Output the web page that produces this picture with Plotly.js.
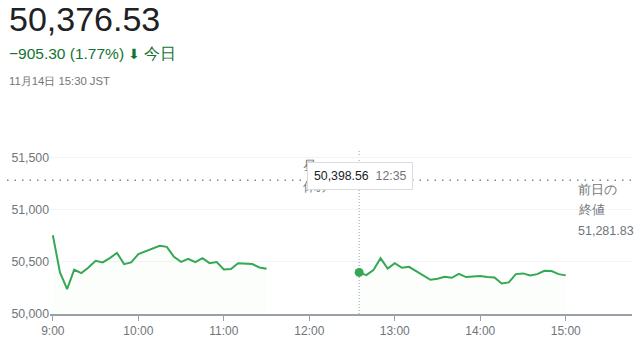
<!DOCTYPE html>
<html>
<head>
<meta charset="utf-8">
<script src="https://cdn.plot.ly/plotly-3.0.1.min.js"></script>
<style>
html,body{margin:0;padding:0;background:#fff;}
#chart{width:640px;height:338px;}
</style>
</head>
<body>
<div id="chart"></div>
<script>
// ---- data ----
var tradeDate = '2025-11-14';
var morningStart = '09:00';
var morningValues = [50755, 50398, 50239, 50424, 50392, 50446, 50510, 50494, 50535, 50586,
  50478, 50494, 50573, 50599, 50624, 50653, 50643, 50548, 50500, 50529,
  50497, 50535, 50487, 50497, 50427, 50430, 50487, 50484, 50478, 50446, 50433];
var afternoonStart = '12:35';
var afternoonValues = [50398.56, 50373, 50420, 50535, 50436, 50487, 50443, 50452, 50411, 50369,
  50328, 50338, 50357, 50347, 50385, 50354, 50360, 50363, 50354, 50350,
  50293, 50303, 50382, 50389, 50369, 50382, 50414, 50411, 50382, 50370];
var stepMinutes = 5;
var prevClose = 51281.83;
var lastPrice = '50,376.53';
var changeText = '\u2212905.30 (1.77%)';
var dateText = '11月14日 15:30 JST';
var hoverTime = '12:35';
var hoverValue = '50,398.56';
var xTickVals = ['09:00','10:00','11:00','12:00','13:00','14:00','15:00'];
var xTickText = ['9:00','10:00','11:00','12:00','13:00','14:00','15:00'];
var yTickVals = [50000, 50500, 51000, 51500];

function times(start, n) {
  var p = start.split(':');
  var base = new Date(2000,0,1,+p[0],+p[1]);
  var out = [];
  for (var i = 0; i < n; i++) {
    var d = new Date(base.getTime() + i*stepMinutes*60000);
    out.push(tradeDate + ' ' + String(d.getHours()).padStart(2,'0') + ':' + String(d.getMinutes()).padStart(2,'0'));
  }
  return out;
}
function t(hm){ return tradeDate + ' ' + hm; }

var green = '#34a853';
var gray = '#70757a';
var font = 'Arial, "Liberation Sans", sans-serif';

var traces = [
  {x: times(morningStart, morningValues.length), y: morningValues, type:'scatter', mode:'lines',
   line:{color:green, width:2}, fill:'tozeroy', fillcolor:'rgba(52,168,83,0.015)', hoverinfo:'skip'},
  {x: times(afternoonStart, afternoonValues.length), y: afternoonValues, type:'scatter', mode:'lines',
   line:{color:green, width:2}, fill:'tozeroy', fillcolor:'rgba(52,168,83,0.015)', hoverinfo:'skip'},
  {x:[t(hoverTime)], y:[afternoonValues[0]], type:'scatter', mode:'markers',
   marker:{color:green, size:9}, hoverinfo:'skip'}
];

// pixel helpers (plot area: left 50, right 632, top 140, bottom 314)
function px(x){ return (x-50)/582; }
function py(y){ return (314-y)/174; }

var annotations = [
  {xref:'paper', yref:'paper', x:px(7), y:py(19), xanchor:'left', yanchor:'middle', showarrow:false,
   text:lastPrice, font:{family:font, size:34, color:'#202124'}},
  {xref:'paper', yref:'paper', x:px(7), y:py(53), xanchor:'left', yanchor:'middle', showarrow:false,
   text:changeText + ' <span style="font-family:DejaVu Sans;font-size:14px">\u2b07</span> 今日', font:{family:font, size:15.5, color:'#137333'}},
  {xref:'paper', yref:'paper', x:px(7), y:py(81), xanchor:'left', yanchor:'middle', showarrow:false,
   text:dateText, font:{family:font, size:11.3, color:gray}},
  {xref:'paper', yref:'paper', x:px(301), y:py(166), xanchor:'left', yanchor:'middle', showarrow:false,
   text:'昼', font:{family:font, size:12.5, color:gray}},
  {xref:'paper', yref:'paper', x:px(301), y:py(187), xanchor:'left', yanchor:'middle', showarrow:false,
   text:'休み', font:{family:font, size:12.5, color:gray}},
  {xref:'paper', yref:'paper', x:px(576), y:py(190), xanchor:'left', yanchor:'middle', showarrow:false,
   text:'前日の', font:{family:font, size:12.5, color:gray}},
  {xref:'paper', yref:'paper', x:px(576), y:py(210), xanchor:'left', yanchor:'middle', showarrow:false,
   text:'終値', font:{family:font, size:12.5, color:gray}},
  {xref:'paper', yref:'paper', x:px(576), y:py(231), xanchor:'left', yanchor:'middle', showarrow:false,
   text:'51,281.83', font:{family:font, size:12.5, color:gray}},
  {xref:'paper', yref:'paper', x:px(360), y:py(175.5), xanchor:'center', yanchor:'middle', showarrow:false,
   text:hoverValue + '  <span style="color:' + gray + '">' + hoverTime + '</span>',
   font:{family:font, size:12.3, color:'#202124'}, bgcolor:'#ffffff', bordercolor:'#dadce0', borderwidth:1, borderpad:6}
];

var shapes = [
  {type:'line', xref:'paper', yref:'y', x0:px(7), x1:1, y0:prevClose, y1:prevClose,
   line:{color:'#80868b', width:1.5, dash:'1.5px,6px'}, layer:'above'},
  {type:'line', xref:'x', yref:'paper', x0:t(hoverTime), x1:t(hoverTime), y0:0, y1:py(150),
   line:{color:'#9aa0a6', width:1, dash:'1px,2px'}, layer:'below'}
];

var layout = {
  width:640, height:338,
  margin:{l:50, r:8, t:140, b:24, pad:0},
  paper_bgcolor:'#fff', plot_bgcolor:'#fff',
  showlegend:false,
  hovermode:false,
  xaxis:{type:'date', range:[t('08:58'), t('15:46:30')], tickvals:xTickVals.map(t), ticktext:xTickText,
    showgrid:false, zeroline:false, showline:true, linecolor:'#9aa0a6', linewidth:1.5,
    ticks:'outside', ticklen:5, tickcolor:'#9aa0a6', tickwidth:1,
    tickfont:{family:font, size:12, color:gray}},
  yaxis:{range:[50000, 51667], tickvals:yTickVals, tickformat:',d',
    showgrid:true, gridcolor:'#f1f3f4', gridwidth:1, zeroline:false, showline:false,
    ticks:'', tickfont:{family:font, size:12.3, color:gray}},
  annotations:annotations,
  shapes:shapes
};

Plotly.newPlot('chart', traces, layout, {staticPlot:true, displayModeBar:false});
</script>
</body>
</html>
